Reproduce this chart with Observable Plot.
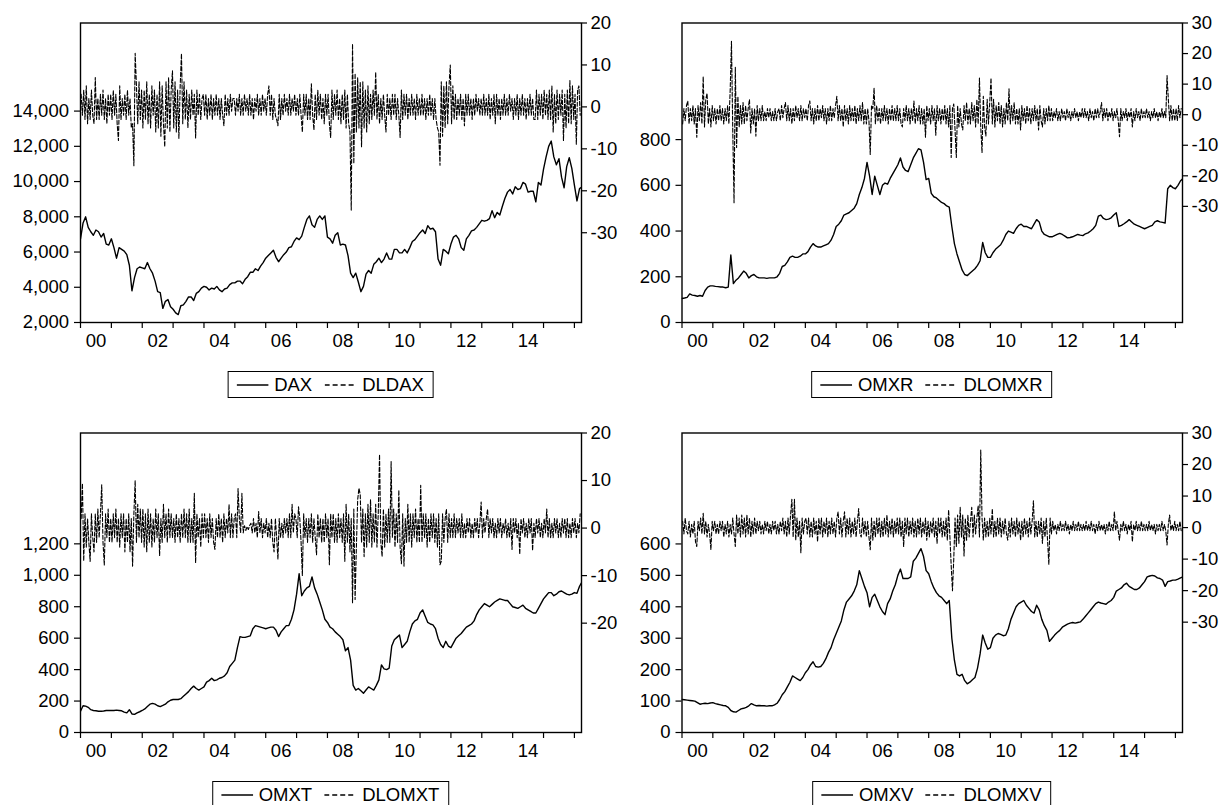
<!DOCTYPE html>
<html><head><meta charset="utf-8">
<script src="https://cdn.jsdelivr.net/npm/d3@7"></script>
<script src="https://cdn.jsdelivr.net/npm/@observablehq/plot@0.6"></script>
<style>
html,body{margin:0;padding:0;background:#fff;}
body{width:1224px;height:805px;position:relative;overflow:hidden;font-family:"Liberation Sans",Arial,sans-serif;}
.panel{position:absolute;width:612px;height:360px;}
.legend{position:absolute;border:1px solid #000;height:27px;display:flex;align-items:center;font-size:18.5px;box-sizing:border-box;padding:0 9px 0 8px;white-space:nowrap;transform:translateX(-50%);background:#fff;}
.legend svg{display:block;}
</style></head><body>
<script>
// ---- x axis ----
const xTickYears = [2000,2001,2002,2003,2004,2005,2006,2007,2008,2009,2010,2011,2012,2013,2014,2015,2016];
const xLabelYears = [2000,2002,2004,2006,2008,2010,2012,2014];
const xLabels = ["00","02","04","06","08","10","12","14"];

// ---- series names ----
const names1 = ["DAX","DLDAX"];
const names2 = ["OMXR","DLOMXR"];
const names3 = ["OMXT","DLOMXT"];
const names4 = ["OMXV","DLOMXV"];

// ---- level series (monthly, from Jan 2000) ----
const dax = [
 6750,7650,8000,7400,7150,6950,7250,7150,6850,7050,6450,6400,
 6750,6250,5650,6250,6150,6050,5850,5250,3800,4550,5050,5150,
 5100,5050,5400,5050,4800,4350,3750,3700,2800,3200,3300,2900,
 2750,2550,2450,2950,3000,3200,3450,3450,3250,3650,3750,3950,
 4050,4000,3850,3950,3900,4050,3850,3750,3900,3950,4150,4250,
 4250,4350,4350,4200,4450,4600,4850,4850,5050,4950,5200,5400,
 5650,5800,5950,6100,5700,5450,5650,5850,6000,6250,6300,6600,
 6800,6700,6900,7400,7850,8050,7550,7400,7850,8050,7850,8050,
 6850,6750,6500,6950,7100,6400,6450,6400,5800,4800,4550,4800,
 4300,3750,4050,4750,4950,4800,5300,5450,5650,5400,5600,5950,
 5600,5600,6150,6150,5950,5950,6150,5950,6250,6600,6700,6900,
 7100,7250,7050,7500,7300,7350,7150,5600,5250,6150,6050,5900,
 6450,6850,6950,6750,6250,6100,6750,6950,7200,7250,7400,7600,
 7800,7750,7800,7900,8350,7950,8250,8100,8600,9050,9400,9550,
 9300,9700,9550,9600,9950,9850,9400,9450,9450,8850,9950,9800,
 10700,11400,12000,12300,11400,10950,11300,10250,9650,10850,11350,10750,
 9800,8900,9600,9700
];
const omxr = [
 105,107,110,125,120,118,115,118,115,140,155,160,
 160,158,157,155,155,152,155,295,170,185,195,210,
 225,215,195,205,210,200,195,195,195,193,195,195,
 195,200,215,245,250,265,285,290,285,285,290,300,
 300,310,330,345,335,330,330,335,340,345,360,385,
 420,430,445,470,475,480,490,500,520,560,590,630,
 700,640,560,640,600,560,600,610,605,630,650,670,
 690,720,680,665,660,690,720,740,760,755,700,625,
 630,565,550,545,535,525,520,510,505,420,345,300,
 265,230,210,205,215,225,235,250,270,350,305,285,
 285,305,320,330,340,360,385,400,395,390,410,425,
 430,420,420,415,410,430,450,440,400,385,380,375,
 375,380,385,390,385,378,370,372,375,380,385,382,
 380,388,392,400,410,425,465,470,455,450,452,458,
 470,480,420,425,432,440,450,440,430,425,420,415,
 410,415,420,425,440,445,440,438,435,585,600,590,
 585,600,620,630
];
const omxt = [
 135,170,168,160,145,140,138,135,135,137,140,140,
 140,140,142,140,138,130,125,145,118,115,125,132,
 140,150,165,180,185,180,170,165,172,180,195,205,
 210,210,210,215,230,245,260,280,295,280,270,280,
 290,320,330,345,330,335,345,350,360,380,420,440,
 460,540,610,605,605,610,615,660,680,675,670,665,
 660,665,670,670,650,610,640,660,680,680,720,780,
 880,1010,870,900,920,930,990,920,880,830,780,720,
 700,670,660,640,625,610,590,520,540,460,300,270,
 280,265,250,270,290,280,270,300,335,430,405,400,
 410,550,590,605,620,540,560,580,640,690,710,720,
 760,780,740,700,690,685,660,600,560,540,580,550,
 540,570,600,615,630,650,670,680,690,710,750,780,
 800,820,810,800,815,830,840,850,845,840,840,820,
 800,795,790,800,810,790,780,770,760,760,790,820,
 850,870,890,890,870,880,895,900,890,880,875,880,
 890,885,930,960
];
const omxv = [
 105,104,103,102,101,100,95,90,92,93,92,94,
 95,92,90,88,86,85,80,70,66,65,70,75,
 77,80,85,92,88,85,86,85,85,84,85,85,
 88,93,105,120,130,145,160,180,175,170,165,175,
 190,200,215,225,210,208,210,220,235,255,270,295,
 315,335,355,390,415,425,435,450,470,515,490,465,
 445,400,430,440,420,400,385,375,410,425,450,470,
 500,520,490,490,490,495,545,555,570,585,560,515,
 505,480,460,445,435,430,420,410,420,300,230,185,
 180,185,165,155,160,168,175,205,250,310,285,265,
 270,300,310,315,312,308,310,330,360,380,400,410,
 415,420,405,395,385,380,405,390,360,340,325,290,
 300,310,318,325,335,340,345,348,350,348,350,352,
 360,370,380,390,400,410,415,412,410,408,415,420,
 430,450,455,460,470,475,465,460,455,455,460,470,
 480,495,498,500,498,492,490,485,465,480,482,485,
 485,488,492,495
];

// ---- log-difference series (24 per year, from Jan 2000) ----
const dldax = [
 3,-2,4,-3,5,-4,2,-3,4,-2,-4,7,-3,2,-3,3,-2,4,-3,2,-4,3,-2,3,
 -3,4,-2,3,-4,-8,5,-3,2,-2,3,-3,4,-2,2,-5,-4,-14,12.8,5,-4,6,-3,4,
 -5,4,-3,6,-4,3,-5,5,-2,4,-6,3,-5,6,-7,5,-4,-9.5,6,-5,7,-6,4,8.6,
 -5,6,-6,4,-7.5,5,12.7,-4,6,-3,4,-5,3,-3,4,-2,3,-7.4,4,-2,3,-3,2,3,
 -2,3,-3,2,-2,3,-3,2,-2,3,-2,2,-3,2,-2,-4.5,3,-2,2,-2,3,-1,2,2,
 -2,2,-1,3,-2,2,-2,3,-1,2,-2,3,-2,2,-3,2,-1,3,-2,2,-2,3,-1,2,
 -2,3,5,-2,3,-3,2,-2,-3,-4.5,3,-3,2,-2,3,-1,2,-2,3,-2,2,-1,3,-2,
 2,-2,3,-2,-6,3,-2,3,-3,2,-3,5.5,-2,-5.5,3,-3,4,-2,3,-3,2,-4,3,-2,
 3,-4,-7.3,4,-3,3,-2,4,-3,2,-4,3,-3,4,-5,3,-4,-6,-24.6,15,-13.5,8,-6,7,
 -5,6,-9.5,6,-5,4,-6,5,-4,3,-3,4,-2,8.3,-3,3,-4,2,-3,3,-2,-6,3,-2,
 2,-3,3,-2,3,-3,2,-2,-7.3,4,-3,3,-2,3,-3,2,-2,3,-2,2,-3,3,-2,2,
 -2,3,-2,2,-3,2,-2,3,-2,2,-3,2,-3,-5,-6,-13.9,6,-7,5,-5,6,-4,5,10,
 -4,5,-3,3,-3,2,-2,3,-3,2,-4.5,3,-2,3,-2,2,-3,2,-2,3,-1,2,-2,2,
 -2,3,-2,2,-2,3,-3,2,-2,3,-4,3,-2,2,-3,2,-2,3,-2,2,-2,3,-1,2,
 -3,2,-2,3,-3,2,-2,3,-2,2,-3,2,-2,3,-2,2,-3,-3,4,-3,3,-2,3,-3,
 4,-2,3,-3,4,-3,5,-6,3,-4,4,-3,3,-2,4,-8,3,-5,4,-4,6.3,-4,5,-3,
 3,-8.9,4,5,-2
];
const dlomxr = [
 -3,2,-2,3,4.5,-3,2,-2,3,-3,2,-7.4,3,-2,4,-3,12.5,-4,5,7,-3,2,-4,3,
 -2,2,-3,2,-2,3,-2,2,-3,2,-2,3,-3,8,24,-5,-28.8,15.5,-10.7,6,-4,3,-3,4,
 -3,3,-2,2,5,-6,2,-3,2,-7,3,-2,2,-2,3,-2,1,-2,2,-1,2,-2,1,-2,
 2,-2,1,2,-2,3,-1,2,4,-2,3,-2,2,-3,2,-2,3,-1,2,-2,3,-2,2,-1,
 2,-2,3,4.5,-2,2,-3,2,-2,3,-2,2,-1,3,-2,2,-3,2,-2,3,-2,2,-1,3,
 6,-2,3,-2,2,-4,3,-2,2,-3,3,-2,2,-2,3,-3,2,-2,3,-2,4,-3,2,-3,
 2,-2,-13,3,2,8.7,-3,3,-2,2,-3,2,-2,3,-2,2,-3,2,-2,3,-2,2,-2,3,
 -2,2,-3,-4,2,-2,3,-2,2,-3,2,-2,4.5,-3,2,-2,3,-3,2,-3,2,-7.4,3,-2,
 2,-3,3,-2,2,-6.7,3,-2,2,-3,2,-2,3,-3,2,-4,3,-14,2,3.5,-5,-14,3,-4,
 2,-3,-5,3,-2,4,-3,2,-3,4,-2,3,-4,5,-3,12,-4,-12.4,6,-4,-7,5,-3,4,
 12,-3,5,-4,3,-2,4,-3,3,-4,2,-3,4,-2,8.5,-3,3,-2,4,-3,2,-3,2,-5,
 3,-2,2,-3,3,-2,2,-3,2,-2,3,-2,2,-5,3,-2,-4,2,-3,2,-2,3,-2,2,
 -2,1,-1,2,-2,1,-2,2,-1,1,-2,2,-1,1,-2,1,-1,2,-1,1,-2,1,-1,2,
 -1,2,-1,1,-2,2,-1,1,-2,2,-1,2,-1,1,4,-2,2,-1,2,-2,1,-1,2,-2,
 1,-1,2,-2,-7.2,2,-2,1,-1,2,-2,1,-1,2,-4,1,-2,2,-1,1,-2,2,-1,1,
 -1,2,-1,1,-2,1,-1,2,-1,1,-2,1,-1,2,-1,1,-1,12.8,5,-2,3,-2,2,-2,
 2,-2,3,-1,2
];
const dlomxt = [
 2,9.4,-6.9,3,-4,2,-3,-7,3,-2,-5,3,-3,4,-2,3,9.1,-3,-7.8,3,-2,4,-3,2,
 -3,3,-2,4,-3,2,-4,3,-2,3,-5,2,-3,3,-5,2,-8,3,10,-3,5,-2,4,-3,
 4,-4,3,-5,4,-3,3,-4,2,-3,4,-2,3,-5.8,2,-3,5,-2,3,-3,4,-2,3,-2,
 2,-3,3,-2,2,-3,3,-2,4,-2,3,-3,4,-3,2,-3,7.3,-7.3,3,-2,2,-4,3,-2,
 3,-2,2,-3,3,-2,2,-3,-4.5,2,-2,3,-2,2,-3,3,-2,2,-1,5,-2,3,-2,2,
 3,-2,8.3,2,-1,7.3,-1,0.5,-0.5,0.3,-0.3,0.5,1,-1,2,-1,1,-2,3.5,-1,2,-2,1,-1,
 2,-2,1,-2,2,-3,-5,2,-2,-6.6,2,-2,1,-2,2,-1,2,-2,3,-2,5,-1,3,2,
 -2,4.5,2,-3,-10,3,-2,2,-3,2,-2,3,-3,2,-2,-5.6,3,-2,2,-3,2,-3,3,-2,
 2,-7.7,3,-2,3,-3,2,-3,3,-2,2,-3,3,-7,5,-3,3,-5,2,-15.7,4,-15,-4,6,
 8.4,7,-3,4,-6,3,-4,5,-3,6,-4,3,-3,5,-4,3,15.5,-3,-6,4,-4,3,-3,4,
 -3,14,-2,4,-4,3,-3,8,-4,-7.5,3,-8,2,-3,5,-3,3,-4,3,-2,4,-3,2,-3,
 9,-3,3,-2,3,-4,2,-3,3,-2,3,-3,2,-4,3,-7.7,-7,3,-3,2,4,-3,3,-2,
 2,-2,3,-2,2,-1,2,-2,3,-2,1,-2,2,-1,2,-2,1,-2,2,-1,2,-2,1,5.5,
 -2,2,-1,2,4,-2,2,-1,2,-2,1,-2,2,-1,2,-2,1,-1,2,-2,1,-2,2,-4.5,
 2,-1,2,-2,1,-5.5,2,-1,2,-2,1,-2,2,-1,2,-4.7,1,-2,2,-1,2,-2,1,-2,
 2,-1,4,-2,2,-2,1,-2,2,-1,2,-2,1,-2,2,-1,2,-2,2,-2,1,-2,2,-1,
 2,-2,1,-1,3
];
const dlomxv = [
 2,-2,3,-1,-2,2,-3,1,-2,2,-4.5,-6,2,-1,3,-2,4.5,-2,2,-3,1,-2,-7,2,
 -1,2,-2,1,-2,2,-1,2,-3,1,-2,2,-3,1,-2,3,-2,-6,4,-2,3,-3,4,-2,
 3,-3,4,-2,3,-3,2,-2,3,-2,2,-1,2,-2,1,-2,2,-1,2,-2,1,-2,2,-1,
 2,-2,1,-2,2,-1,3,-2,2,-3,3,-2,4,9,-3,9,-4,3,-3,2,-8,3,-2,2,
 3,-2,3,-3,2,-3,3,-2,2,-4.5,3,-2,3,-3,2,-2,3,-3,2,-2,3,-2,2,-3,
 3,5,-2,3,-3,2,5,-3,3,-2,3,-3,2,-2,3,-3,2,6,-2,-3,3,-2,2,-3,
 2,-3,-7,3,-4,2,-3,3,-2,3,-3,2,-3,3,-2,4,-3,2,-2,3,-3,2,-2,3,
 -2,3,-3,2,-6,3,-2,3,-3,2,-2,3,-3,2,-3,3,-2,3,-3,2,-2,3,-4,2,
 -3,2,-2,3,-3,2,-5,3,-2,3,-3,2,-3,3,-4,5.6,-3,-12,-20,-10,3,-6,4,-5,
 6.4,-3,4,-9,3,-4,4,-3,2,6.4,-3,4,-2,3,7,-3,24.6,3,-4,3,-3,2,-3,3,
 -2,6,-3,2,-3,3,-2,3,-3,2,-2,3,-2,-4,2,-3,3,-2,2,-3,3,-2,2,-4,
 2,-3,3,-2,2,-3,3,-2,2,8.5,-3,2,-3,2,-2,3,-5,2,-3,3,-4,-11.7,3,-2,
 2,-1,1,-2,1,-1,2,-1,1,-1,2,-1,1,-2,1,-1,2,-1,1,-1,2,-1,1,-1,
 1,-1,2,-1,1,-1,2,-1,1,-2,1,-1,2,-1,1,-1,1,-2,1,-1,2,-1,1,-1,
 5,-1,2,-1,-4,1,-1,2,-1,1,-2,1,-1,2,-4.5,1,-1,2,-1,1,-1,2,-1,1,
 -1,1,-1,2,-1,1,-1,1,-2,1,-1,1,-1,2,-1,1,-1,-5.5,1,4,-1,1,-1,2,
 -1,1,-1,2,-1
];

// ---- axis tick values ----
const yTicks1 = [2000,4000,6000,8000,10000,12000,14000];
const yTicks2 = [0,200,400,600,800];
const yTicks3 = [0,200,400,600,800,1000,1200];
const yTicks4 = [0,100,200,300,400,500,600];
const rTicks1 = [20,10,0,-10,-20,-30];
const rTicks2 = [30,20,10,0,-10,-20,-30];
const rTicks3 = [20,10,0,-10,-20];
const rTicks4 = [30,20,10,0,-10,-20,-30];

const W = 612, H = 360, MT = 22.5, MB = 38;
const xDomain = [2000, 2016.23];
const FONT = '"Liberation Sans", Arial, sans-serif';

function drawPanel(cfg) {
  const box = document.createElement("div");
  box.className = "panel";
  box.style.left = cfg.left + "px";
  box.style.top = cfg.top + "px";
  document.body.appendChild(box);

  const levelData = cfg.level.map((v, i) => ({x: 2000 + i / 12, v}));
  const dlData = cfg.dl.map((v, k) => ({x: 2000 + (k + 0.5) / 24, v}));
  const style = {background: "transparent", fontFamily: FONT, fontSize: "18.5px", color: "black",
                 overflow: "visible", position: "absolute", left: "0px", top: "0px", maxWidth: "none"};
  const base = {width: W, height: H, marginLeft: cfg.mLeft, marginRight: cfg.mRight,
                marginTop: MT, marginBottom: MB, style};

  const a = Plot.plot({
    ...base,
    x: {domain: xDomain, label: null},
    y: {domain: cfg.yDomain, label: null},
    marks: [
      Plot.axisX(xTickYears, {tickSize: 6, tickFormat: () => "", label: null, strokeWidth: 1.2}),
      Plot.axisX(xLabelYears.map(y => y + 0.5), {tickSize: 0, tickPadding: 11, label: null,
        tickFormat: d => xLabels[xLabelYears.indexOf(Math.round(d - 0.5))]}),
      Plot.axisY(cfg.yTicks, {anchor: "left", tickSize: 6, tickPadding: 5.5, label: null,
        tickFormat: d3.format(","), strokeWidth: 1.2}),
      Plot.lineY(levelData, {x: "x", y: "v", stroke: "black", strokeWidth: 1.4, clip: true}),
      Plot.frame({stroke: "black", strokeWidth: 1.4})
    ]
  });
  const b = Plot.plot({
    ...base,
    x: {domain: xDomain, label: null, axis: null},
    y: {domain: cfg.rDomain, label: null},
    marks: [
      Plot.axisY(cfg.rTicks, {anchor: "right", tickSize: 5, tickPadding: 4, label: null,
        tickFormat: d => String(d), strokeWidth: 1.2}),
      Plot.lineY(dlData, {x: "x", y: "v", stroke: "black", strokeWidth: 1.1,
        strokeDasharray: "4,2", clip: true})
    ]
  });
  box.appendChild(a);
  box.appendChild(b);

  const lg = document.createElement("div");
  lg.className = "legend";
  lg.style.left = (cfg.left + (cfg.mLeft + W - cfg.mRight) / 2) + "px";
  lg.style.top = (cfg.top + 371) + "px";
  lg.innerHTML =
    '<svg width="32" height="10"><line x1="0" y1="5" x2="32" y2="5" stroke="black" stroke-width="1.3"/></svg>' +
    '<span style="margin-left:6px">' + cfg.names[0] + '</span>' +
    '<svg width="31" height="10" style="margin-left:12px"><line x1="0" y1="5" x2="31" y2="5" stroke="black" stroke-width="1.3" stroke-dasharray="5,3"/></svg>' +
    '<span style="margin-left:7px">' + cfg.names[1] + '</span>';
  document.body.appendChild(lg);
}

drawPanel({left: 0, top: 0, mLeft: 80, mRight: 31, level: dax, dl: dldax,
  yDomain: [2000, 19000], yTicks: yTicks1, rDomain: [-51.4, 20], rTicks: rTicks1, names: names1});
drawPanel({left: 612, top: 0, mLeft: 69.5, mRight: 42, level: omxr, dl: dlomxr,
  yDomain: [0, 1310], yTicks: yTicks2, rDomain: [-68, 30], rTicks: rTicks2, names: names2});
drawPanel({left: 0, top: 410, mLeft: 80, mRight: 31, level: omxt, dl: dlomxt,
  yDomain: [0, 1905], yTicks: yTicks3, rDomain: [-43, 20], rTicks: rTicks3, names: names3});
drawPanel({left: 612, top: 410, mLeft: 69.5, mRight: 42, level: omxv, dl: dlomxv,
  yDomain: [0, 953], yTicks: yTicks4, rDomain: [-65, 30], rTicks: rTicks4, names: names4});
</script>
</body></html>
